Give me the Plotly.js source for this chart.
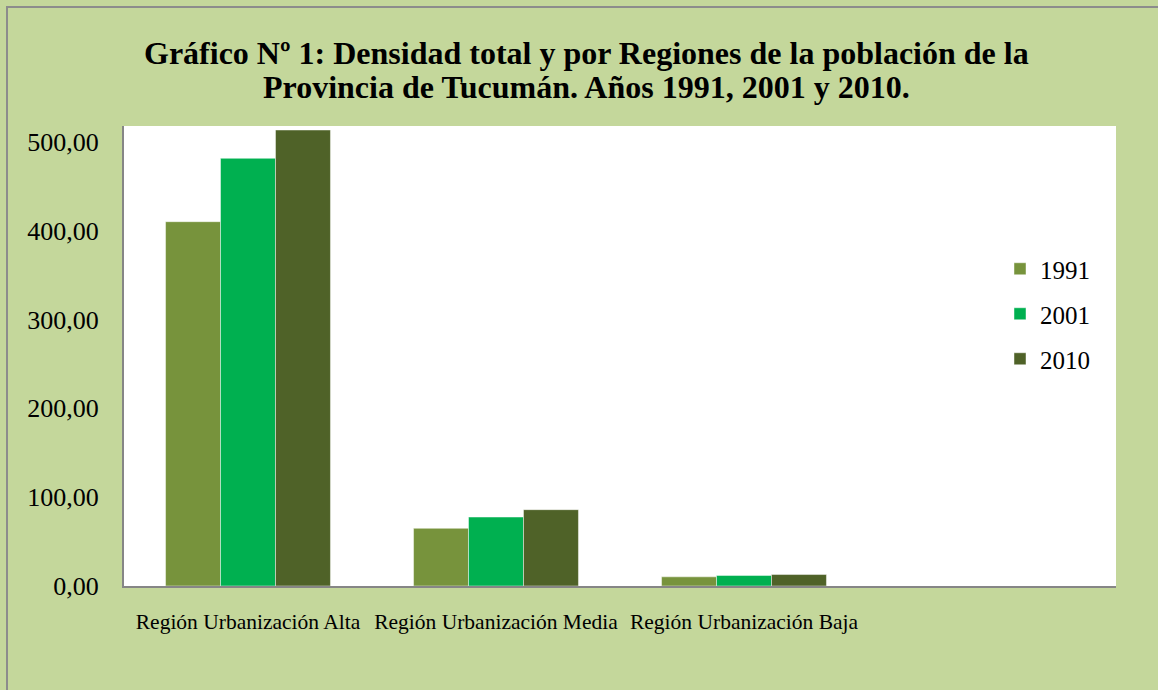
<!DOCTYPE html>
<html>
<head>
<meta charset="utf-8">
<script src="https://cdn.plot.ly/plotly-3.0.1.min.js"></script>
<style>html,body{margin:0;padding:0;background:#C4D79B;}#chart{width:1158px;height:690px;}</style>
</head>
<body>
<div id="chart"></div>
<script>
const categories = ["Región Urbanización Alta", "Región Urbanización Media", "Región Urbanización Baja"];
const seriesNames = ["1991", "2001", "2010"];
const values1991 = [410.0, 64.9, 10.3];
const values2001 = [481.3, 77.6, 11.8];
const values2010 = [513.2, 85.9, 12.9];
const seriesColors = ["#77933C", "#00B050", "#4F6228"];
const yTickValues = [0, 100, 200, 300, 400, 500];
const titleLines = [
  "Gráfico Nº 1: Densidad total y por Regiones de la población de la",
  "Provincia de Tucumán. Años 1991, 2001 y 2010."
];

const seriesValues = [values1991, values2001, values2010];
const traces = seriesNames.map((name, i) => ({
  type: "bar",
  name: name,
  x: categories,
  y: seriesValues[i],
  legendgroup: name,
  marker: { color: seriesColors[i], line: { color: "rgba(255,255,255,0.45)", width: 1 } },
  hoverinfo: "x+y+name"
}));

const W = 1158, H = 690;
const L = 124, R = 1116, T = 126, B = 586;
const px = v => (v - L) / (R - L);
const py = v => (B - v) / (B - T);
const SERIF = "Liberation Serif, Times New Roman, serif";
const titleCenters = [53, 87];

const layout = {
  width: W,
  height: H,
  paper_bgcolor: "#C4D79B",
  plot_bgcolor: "#FFFFFF",
  margin: { l: L, r: W - R, t: T, b: H - B, pad: 0 },
  separators: ",.",
  font: { family: SERIF, color: "#000000" },
  annotations: titleLines.map((t, i) => ({
    text: "<b>" + t + "</b>",
    xref: "paper", yref: "paper",
    x: px(586), y: py(titleCenters[i]),
    xanchor: "center", yanchor: "middle",
    showarrow: false,
    font: { family: SERIF, size: 32, color: "#000000" }
  })),
  barmode: "group",
  bargap: 0.335,
  bargroupgap: 0,
  xaxis: {
    type: "category",
    range: [-0.5, 3.5],
    showline: true,
    linecolor: "#868686",
    linewidth: 2,
    showgrid: false,
    zeroline: false,
    ticks: "outside",
    ticklen: 15,
    tickcolor: "rgba(0,0,0,0)",
    tickfont: { size: 21.5, family: SERIF, color: "#000000" },
    fixedrange: true
  },
  yaxis: {
    range: [0, 517.7],
    tickvals: yTickValues,
    tickformat: ".2f",
    showline: true,
    linecolor: "#868686",
    linewidth: 2,
    showgrid: false,
    zeroline: false,
    ticks: "outside",
    ticklen: 18,
    tickcolor: "rgba(0,0,0,0)",
    tickfont: { size: 26, family: SERIF, color: "#000000" },
    fixedrange: true
  },
  legend: {
    x: px(1000),
    xanchor: "left",
    y: py(246),
    yanchor: "top",
    bgcolor: "rgba(0,0,0,0)",
    font: { size: 25, family: SERIF, color: "#000000" },
    traceorder: "grouped",
    tracegroupgap: 9.5
  },
  shapes: [
    {
      type: "rect",
      xref: "paper", yref: "paper",
      x0: px(7), x1: px(W + 20),
      y0: py(H + 20), y1: py(7),
      line: { color: "#8C8C8C", width: 2 },
      fillcolor: "rgba(0,0,0,0)",
      layer: "above"
    }
  ],
  showlegend: true
};

Plotly.newPlot("chart", traces, layout, { displayModeBar: false });
</script>
</body>
</html>
